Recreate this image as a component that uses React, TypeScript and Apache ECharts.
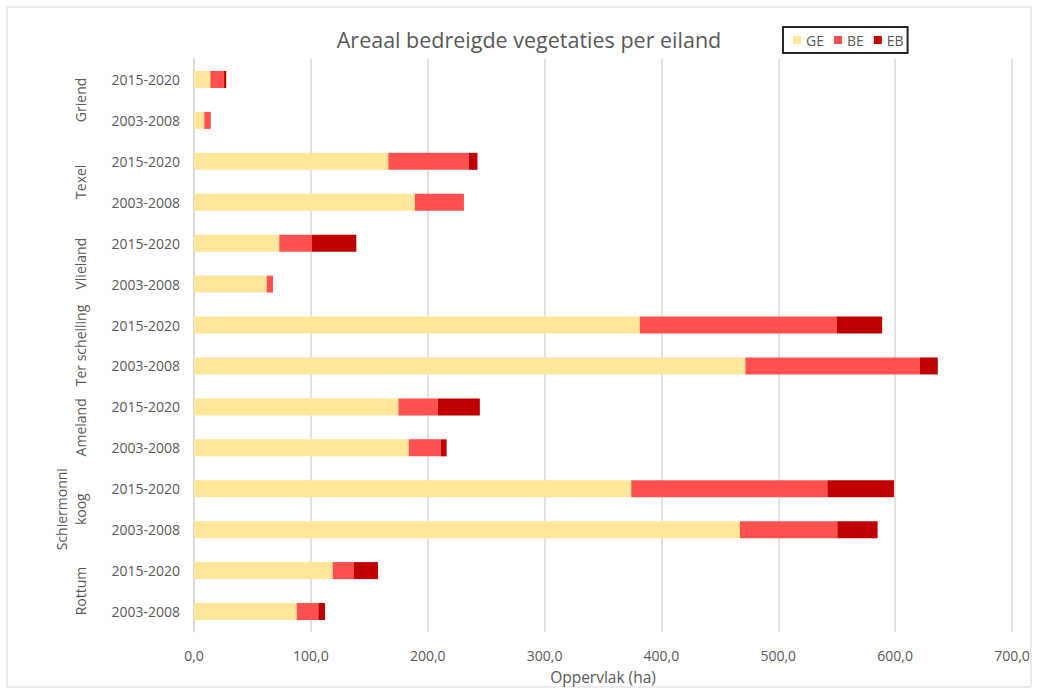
import React, { useEffect, useRef } from "react";
import * as echarts from "echarts";

// Categories listed bottom to top
const periods = [
  "2003-2008", "2015-2020",
  "2003-2008", "2015-2020",
  "2003-2008", "2015-2020",
  "2003-2008", "2015-2020",
  "2003-2008", "2015-2020",
  "2003-2008", "2015-2020",
  "2003-2008", "2015-2020",
];
const islands = ["Rottum", "Schiermonni\nkoog", "Ameland", "Ter schelling", "Vlieland", "Texel", "Griend"];

const GE = [87.9, 118.7, 467.2, 374.2, 183.8, 175.0, 471.9, 381.5, 62.2, 73.0, 189.0, 166.3, 8.8, 14.0];
const BE = [18.5, 18.2, 83.3, 167.8, 27.2, 33.6, 149.1, 168.5, 5.4, 28.0, 42.0, 68.9, 5.6, 11.7];
const EB = [5.7, 20.6, 34.5, 57.0, 5.2, 36.0, 15.5, 38.9, 0, 37.9, 0, 7.4, 0, 1.9];

const xTicks = { min: 0, max: 700, interval: 100 };

const FONT = "'Open Sans', 'Noto Sans', sans-serif";
const GREY = "#595959";

export default function App() {
  const ref = useRef<HTMLDivElement>(null);
  useEffect(() => {
    if (!ref.current) return;
    const chart = echarts.init(ref.current, null, { renderer: "svg" });
    chart.setOption({
      animation: false,
      backgroundColor: "#ffffff",
      textStyle: { fontFamily: FONT },
      title: {
        text: "Areaal bedreigde vegetaties per eiland",
        left: 524,
        textAlign: "center",
        top: 23,
        textStyle: { fontFamily: FONT, fontSize: 21.5, fontWeight: "normal", color: GREY },
      },
      legend: {
        left: 783,
        top: 27,
        icon: "rect",
        itemWidth: 8,
        itemHeight: 8,
        itemGap: 10,
        padding: [6, 4, 6, 10],
        borderColor: "#262626",
        borderWidth: 2,
        textStyle: { fontFamily: FONT, fontSize: 14, color: GREY },
        data: ["GE", "BE", "EB"],
      },
      graphic: [
        {
          type: "rect",
          shape: { x: 7, y: 7, width: 1024, height: 680 },
          style: { fill: "none", stroke: "#d9d9d9", lineWidth: 1 },
          silent: true,
          z: -1,
        },
      ],
      grid: { left: 194, right: 27, top: 59, bottom: 60, containLabel: false, outerBoundsMode: "none" },
      xAxis: {
        type: "value",
        min: xTicks.min,
        max: xTicks.max,
        interval: xTicks.interval,
        name: "Oppervlak (ha)",
        nameLocation: "middle",
        nameGap: 37,
        nameTextStyle: { fontFamily: FONT, fontSize: 15.5, color: GREY },
        axisLine: { show: false },
        axisTick: { show: false },
        axisLabel: {
          margin: 16,
          fontFamily: FONT,
          fontSize: 14,
          color: GREY,
          formatter: (v: number) => v.toFixed(1).replace(".", ","),
        },
        splitLine: { show: true, lineStyle: { color: "#d9d9d9", width: 1.5 } },
      },
      yAxis: [
        {
          type: "category",
          data: periods,
          position: "left",
          axisLine: { show: true, lineStyle: { color: "#d9d9d9", width: 1.5 } },
          axisTick: { show: false },
          axisLabel: { interval: 0, margin: 14, fontFamily: FONT, fontSize: 14, color: GREY },
        },
        {
          type: "category",
          data: islands,
          position: "left",
          offset: 96,
          axisLine: { show: false },
          axisTick: { show: false },
          splitLine: { show: false },
          axisLabel: {
            interval: 0,
            rotate: 90,
            margin: 8,
            fontFamily: FONT,
            fontSize: 14,
            lineHeight: 19,
            color: GREY,
          },
        },
      ],
      series: [
        { name: "GE", type: "bar", stack: "tot", data: GE, barWidth: 17, itemStyle: { color: "#FFE699" } },
        { name: "BE", type: "bar", stack: "tot", data: BE, barWidth: 17, itemStyle: { color: "#FF5050" } },
        { name: "EB", type: "bar", stack: "tot", data: EB, barWidth: 17, itemStyle: { color: "#C00000" } },
      ],
    });
    return () => chart.dispose();
  }, []);
  return (
    <div
      ref={ref}
      style={{ position: "absolute", left: 0, top: 0, width: 1039, height: 692 }}
    />
  );
}
